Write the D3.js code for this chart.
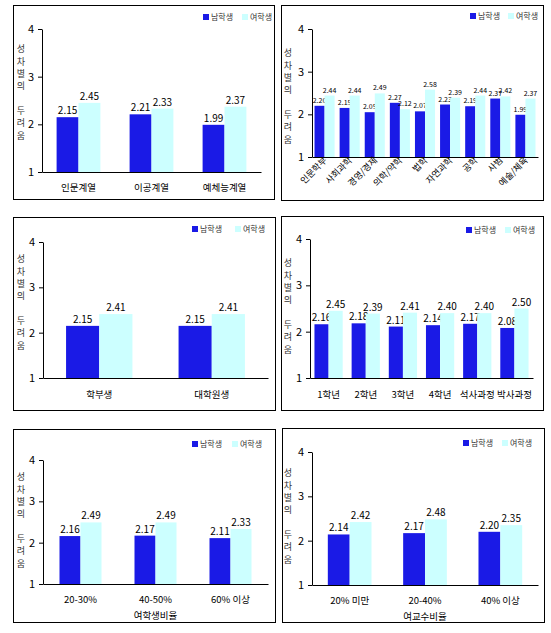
<!DOCTYPE html>
<html><head><meta charset="utf-8">
<script src="https://cdn.jsdelivr.net/npm/d3@7"></script>
<style>
body{margin:0;background:#fff;}
svg text{font-family:"Noto Sans CJK KR","Liberation Sans",sans-serif;}
</style></head>
<body><svg id="c" width="551" height="633"></svg>
<script>
const series = ["남학생", "여학생"];
const yTicks = [1, 2, 3, 4];
const yTitle = ["성차별의", "두려움"];

const cat1 = ["인문계열", "이공계열", "예체능계열"];
const male1 = [2.15, 2.21, 1.99];
const female1 = [2.45, 2.33, 2.37];

const cat2 = ["인문학부", "사회과학", "경영/경제", "의학/약학", "법학", "자연과학", "공학", "사범", "예술/체육"];
const male2 = [2.20, 2.15, 2.05, 2.27, 2.07, 2.23, 2.19, 2.37, 1.99];
const female2 = [2.44, 2.44, 2.49, 2.12, 2.58, 2.39, 2.44, 2.42, 2.37];

const cat3 = ["학부생", "대학원생"];
const male3 = [2.15, 2.15];
const female3 = [2.41, 2.41];

const cat4 = ["1학년", "2학년", "3학년", "4학년", "석사과정", "박사과정"];
const male4 = [2.16, 2.18, 2.11, 2.14, 2.17, 2.08];
const female4 = [2.45, 2.39, 2.41, 2.40, 2.40, 2.50];

const cat5 = ["20-30%", "40-50%", "60% 이상"];
const male5 = [2.16, 2.17, 2.11];
const female5 = [2.49, 2.49, 2.33];
const xTitle5 = "여학생비율";

const cat6 = ["20% 미만", "20-40%", "40% 이상"];
const male6 = [2.14, 2.17, 2.20];
const female6 = [2.42, 2.48, 2.35];
const xTitle6 = "여교수비율";

const colors = ["#1a1ae6", "#ccffff"];

const panels = [
  {cats: cat1, vals: [male1, female1], box: [13, 5, 261, 194], ax: [42, 261, 29, 172], gw: 0.60, catY: 191, leg: [203, 242, 14], tY: 49, tX: 21, vf: 10},
  {cats: cat2, vals: [male2, female2], box: [281, 5, 262, 195], ax: [312, 538, 29, 157], gw: 0.80, catY: 161, rot: true, leg: [470, 508, 13], tY: 53, tX: 288, vf: 7},
  {cats: cat3, vals: [male3, female3], box: [13, 217, 262, 193], ax: [43, 268, 242, 378], gw: 0.59, catY: 398, leg: [192, 235, 226], tY: 259, tX: 21, vf: 10},
  {cats: cat4, vals: [male4, female4], box: [281, 216, 262, 194], ax: [310, 533, 239, 378], gw: 0.76, catY: 398, leg: [466, 505, 227], tY: 263, tX: 288, vf: 10},
  {cats: cat5, vals: [male5, female5], box: [13, 429, 262, 193], ax: [43, 268, 460, 584], gw: 0.56, catY: 603, leg: [192, 232, 441], tY: 477, tX: 21, vf: 10, xt: xTitle5},
  {cats: cat6, vals: [male6, female6], box: [282, 428, 262, 194], ax: [312, 538, 452, 585], gw: 0.58, catY: 604, leg: [463, 502, 440], tY: 473, tX: 288, vf: 10, xt: xTitle6}
];

const svg = d3.select("#c");

panels.forEach(p => {
  const g = svg.append("g");
  const [bx, by, bw, bh] = p.box;
  g.append("rect").attr("x", bx + 0.5).attr("y", by + 0.5).attr("width", bw).attr("height", bh)
    .attr("fill", "#fff").attr("stroke", "#000").attr("stroke-width", 1);

  const [x0, x1, yT, yB] = p.ax;
  const y = d3.scaleLinear().domain([1, 4]).range([yB, yT]);
  const x = d3.scaleBand().domain(p.cats).range([x0, x1]).padding(0);
  const bandW = x.bandwidth();
  const xs = d3.scaleBand().domain(series).range([0, bandW * p.gw]);

  series.forEach((s, si) => {
    g.selectAll(null).data(p.cats).enter().append("rect")
      .attr("x", (d) => x(d) + bandW * (1 - p.gw) / 2 + xs(s))
      .attr("y", (d, i) => y(p.vals[si][i]))
      .attr("width", xs.bandwidth())
      .attr("height", (d, i) => y(1) - y(p.vals[si][i]))
      .attr("fill", colors[si]);
    g.selectAll(null).data(p.cats).enter().append("text")
      .attr("x", (d) => x(d) + bandW * (1 - p.gw) / 2 + xs(s) + xs.bandwidth() / 2)
      .attr("y", (d, i) => y(p.vals[si][i]) - 3)
      .attr("text-anchor", "middle")
      .attr("font-size", p.vf)
      .attr("font-family", "Liberation Sans, sans-serif")
      .attr("fill", "#000")
      .text((d, i) => p.vals[si][i].toFixed(2));
  });

  const ya = g.append("g").attr("transform", `translate(${x0},0)`)
    .call(d3.axisLeft(y).tickValues(yTicks).tickSize(4).tickSizeOuter(0).tickFormat(d3.format("d")));
  ya.select(".domain").attr("stroke", "#000");
  ya.selectAll("text").attr("font-size", 11).attr("font-family", "Liberation Sans, sans-serif").attr("x", -8).attr("fill", "#000");

  const xa = g.append("g").attr("transform", `translate(0,${yB})`)
    .call(d3.axisBottom(x).tickSize(0).tickSizeOuter(0));
  xa.select(".domain").attr("stroke", "#000");
  if (p.rot) {
    xa.selectAll("text").attr("font-size", 9).attr("text-anchor", "end")
      .attr("dy", 0).attr("y", 0)
      .attr("transform", `translate(3,${p.catY - yB}) rotate(-45)`);
  } else {
    xa.selectAll("text").attr("font-size", 9.5).attr("dy", 0).attr("y", p.catY - yB);
  }
  xa.selectAll("text").attr("fill", "#000");

  // vertical y title
  g.selectAll(null).data(yTitle).enter().append("text")
    .attr("x", p.tX).attr("y", (d, i) => p.tY - 4.5 + i * 5 * 12.3)
    .style("writing-mode", "vertical-rl")
    .style("letter-spacing", "3.3px")
    .attr("font-size", 9).attr("fill", "#333")
    .text(d => d);

  if (p.xt) {
    g.append("text").attr("x", (x0 + x1) / 2).attr("y", p.catY + 16)
      .attr("text-anchor", "middle").attr("font-size", 9.5).attr("fill", "#000").text(p.xt);
  }

  const [l1, l2, ly] = p.leg;
  [l1, l2].forEach((lx, i) => {
    g.append("rect").attr("x", lx).attr("y", ly).attr("width", 6).attr("height", 6).attr("fill", colors[i]);
    g.append("text").attr("x", lx + 8).attr("y", ly + 6).attr("font-size", 8).attr("fill", "#333").text(series[i]);
  });
});
</script></body></html>
